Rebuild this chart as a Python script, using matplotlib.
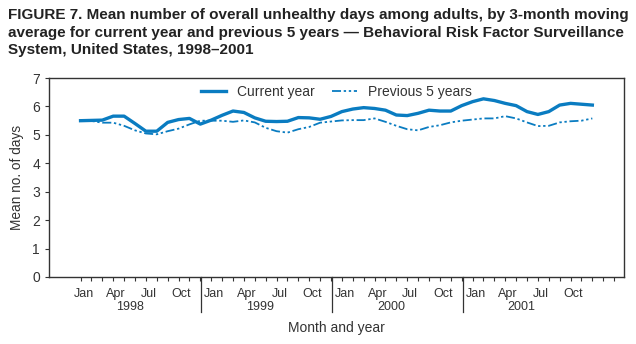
import numpy as np
import matplotlib.pyplot as plt
import matplotlib.transforms as mtransforms

plt.rcParams['font.family'] = ['Liberation Sans', 'DejaVu Sans']

# Data: 3-month moving averages, Jan 1998 .. Dec 2001
years = ['1998', '1999', '2000', '2001']
month_labels = ['Jan', '', '', 'Apr', '', '', 'Jul', '', '', 'Oct', '', '']
current_year = [5.50, 5.51, 5.52, 5.66, 5.66, 5.40, 5.13, 5.13, 5.44, 5.54, 5.58, 5.38,
                5.52, 5.69, 5.84, 5.79, 5.60, 5.48, 5.47, 5.48, 5.61, 5.60, 5.55, 5.65,
                5.82, 5.91, 5.96, 5.93, 5.87, 5.70, 5.68, 5.76, 5.87, 5.84, 5.84, 6.03,
                6.17, 6.27, 6.21, 6.11, 6.03, 5.82, 5.72, 5.82, 6.05, 6.11, 6.08, 6.05]
previous_5 = [5.50, 5.49, 5.43, 5.43, 5.32, 5.16, 5.05, 5.02, 5.13, 5.22, 5.37, 5.50,
              5.50, 5.50, 5.46, 5.51, 5.44, 5.25, 5.13, 5.08, 5.20, 5.28, 5.43, 5.47,
              5.51, 5.52, 5.52, 5.58, 5.46, 5.32, 5.20, 5.16, 5.28, 5.34, 5.44, 5.50,
              5.54, 5.58, 5.58, 5.66, 5.58, 5.44, 5.31, 5.32, 5.44, 5.48, 5.50, 5.58]

blue = '#0a7cc1'
grey = '#333333'

fig = plt.figure(figsize=(6.36, 3.44), dpi=100)
ax = fig.add_axes([0.077, 0.195, 0.904, 0.578])

x = np.arange(len(current_year))
ax.plot(x, current_year, color=blue, lw=2.4, solid_joinstyle='round',
        label='Current year')
ax.plot(x, previous_5, color=blue, lw=1.3, dashes=(5, 1.5, 1.3, 1.5, 1.3, 1.5),
        label='Previous 5 years')

ax.set_xlim(-2.9, 49.9)
ax.set_ylim(0, 7)
ax.set_yticks(range(8))

# month ticks, labels only on quarters of the plotted months
ticks = np.arange(0, 50)
ax.set_xticks(ticks)
ax.set_xticklabels([month_labels[t % 12] if t < len(x) else '' for t in ticks])
ax.tick_params(axis='x', length=3, width=0.8, pad=5, labelsize=9,
               colors=grey, direction='out')
ax.tick_params(axis='y', length=3, width=0.8, labelsize=10, colors=grey)
# nudge month labels a little right
offset = mtransforms.ScaledTranslation(3 / 100, 0, fig.dpi_scale_trans)
for lab in ax.get_xticklabels():
    lab.set_transform(lab.get_transform() + offset)

for sp in ax.spines.values():
    sp.set_color(grey)
    sp.set_linewidth(1.0)

# year labels and separators below the axis
trans = mtransforms.blended_transform_factory(ax.transData, ax.transAxes)
for k, yr in enumerate(years):
    ax.text(4.5 + 12 * k, -0.152, yr, transform=trans, ha='center', va='center',
            fontsize=9, color=grey)
for sep in [11.1, 23.1, 35.1]:
    ax.plot([sep, sep], [0, -0.176], transform=trans, color=grey, lw=0.9,
            clip_on=False)

ax.set_xlabel('Month and year', fontsize=10, color=grey, labelpad=15)
ax.set_ylabel('Mean no. of days', fontsize=9.8, color=grey, labelpad=6)

ax.legend(loc='upper center', ncol=2, frameon=False, fontsize=10,
          handlelength=1.8, columnspacing=1.2, borderaxespad=0.1,
          labelcolor=grey)

fig.text(0.013, 0.978, 'FIGURE 7. Mean number of overall unhealthy days among adults, by 3-month moving\n'
         'average for current year and previous 5 years \u2014 Behavioral Risk Factor Surveillance\n'
         'System, United States, 1998\u20132001',
         ha='left', va='top', fontsize=11, fontweight='bold', color='#222222',
         linespacing=1.36)

fig.savefig('out.png', dpi=100)
